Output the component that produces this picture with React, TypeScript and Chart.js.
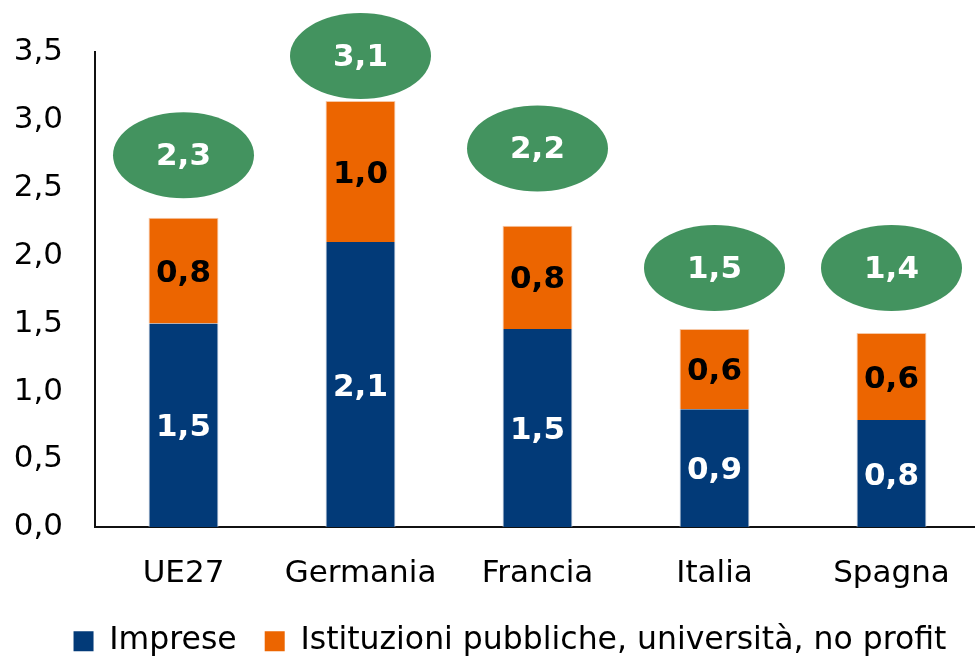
import React, { useEffect, useRef } from "react";
import { Chart, registerables } from "chart.js";

Chart.register(...registerables);

const categories = ["UE27", "Germania", "Francia", "Italia", "Spagna"];
const impreseValues = [1.5, 2.1, 1.46, 0.87, 0.79];
const istituzioniValues = [0.78, 1.04, 0.76, 0.59, 0.64];
// vertical position (in axis units) of the green total bubbles
const bubblePos = [2.74, 3.47, 2.79, 1.91, 1.91];
const yTicks = [0, 0.5, 1, 1.5, 2, 2.5, 3, 3.5];

const FONT = "'DejaVu Sans', sans-serif";
const fmt = (v: number) => v.toFixed(1).replace(".", ",");

const labelPlugin = {
  id: "labels",
  afterLayout(chart: any) {
    if (chart.legend) {
      chart.legend.left += 20;
      chart.legend.right += 20;
    }
  },
  afterDatasetsDraw(chart: any) {
    const ctx = chart.ctx;
    ctx.save();
    ctx.textAlign = "center";
    ctx.textBaseline = "middle";
    ctx.font = `bold 31px ${FONT}`;
    [0, 1].forEach((di) => {
      const meta = chart.getDatasetMeta(di);
      meta.data.forEach((el: any, i: number) => {
        const v = chart.data.datasets[di].data[i] as number;
        ctx.fillStyle = di === 0 ? "#ffffff" : "#000000";
        ctx.fillText(fmt(v), el.x, (el.y + el.base) / 2 + 3);
      });
    });
    const bm = chart.getDatasetMeta(2);
    bm.data.forEach((el: any, i: number) => {
      ctx.beginPath();
      ctx.ellipse(el.x, el.y, 70.5, 43, 0, 0, Math.PI * 2);
      ctx.fillStyle = "#43935F";
      ctx.fill();
      ctx.fillStyle = "#ffffff";
      const total = impreseValues[i] + istituzioniValues[i];
      ctx.fillText(fmt(total), el.x, el.y + 2);
    });
    ctx.restore();
  },
};

export default function App() {
  const ref = useRef<HTMLCanvasElement | null>(null);
  useEffect(() => {
    if (!ref.current) return;
    const chart = new Chart(ref.current, {
      type: "bar",
      data: {
        labels: categories,
        datasets: [
          {
            label: "Imprese",
            data: impreseValues,
            backgroundColor: "#023A78",
            borderColor: "#c9d3e0",
            borderWidth: { left: 1, right: 1, top: 0, bottom: 0 } as any,
            stack: "s",
          },
          {
            label: "Istituzioni pubbliche, università, no profit",
            data: istituzioniValues,
            backgroundColor: "#EC6500",
            borderColor: "#f6c8a6",
            borderWidth: { left: 1, right: 1, top: 1, bottom: 0 } as any,
            stack: "s",
          },
          {
            type: "line" as any,
            label: "Totale",
            data: bubblePos,
            showLine: false,
            pointRadius: 0,
            pointHoverRadius: 0,
            stack: "bubble",
          } as any,
        ],
      },
      options: {
        animation: false,
        responsive: false,
        maintainAspectRatio: false,
        datasets: { bar: { categoryPercentage: 1, barPercentage: 0.395 } },
        layout: { padding: { top: 52, right: 40, left: 0, bottom: -10 } },
        plugins: {
          tooltip: { enabled: false },
          legend: {
            position: "bottom",
            labels: {
              generateLabels: (chart: any) => {
                const items = (Chart.defaults.plugins.legend.labels as any).generateLabels(chart);
                items.forEach((it: any) => {
                  it.lineWidth = 0;
                  if (it.datasetIndex === 0) it.text = it.text + "  ";
                });
                return items;
              },
              filter: (item: any) => item.datasetIndex < 2,
              boxWidth: 20,
              boxHeight: 20,
              padding: 8,
              color: "#000",
              font: { family: FONT, size: 31.5 },
            },
          },
        },
        scales: {
          x: {
            stacked: true,
            grid: { display: false, drawTicks: false },
            border: { display: true, color: "#111", width: 2 },
            ticks: { color: "#000", padding: 28, font: { family: FONT, size: 31 } },
            afterFit: (scale: any) => {
              scale.height -= 3;
            },
          },
          y: {
            stacked: true,
            min: 0,
            max: 3.5,
            afterBuildTicks: (scale: any) => {
              scale.ticks = yTicks.map((v) => ({ value: v }));
            },
            afterFit: (scale: any) => {
              scale.width = 95;
            },
            grid: { display: false, drawTicks: false },
            border: { display: true, color: "#111", width: 2 },
            ticks: {
              color: "#000",
              padding: 32,
              font: { family: FONT, size: 31 },
              callback: (v: any) => fmt(Number(v)),
            },
          },
        },
      },
      plugins: [labelPlugin],
    });
    return () => chart.destroy();
  }, []);
  return (
    <div style={{ position: "absolute", left: 0, top: 0, width: 975, height: 657, overflow: "hidden", background: "#fff" }}>
      <canvas ref={ref} width={1020} height={657} style={{ display: "block" }} />
    </div>
  );
}
